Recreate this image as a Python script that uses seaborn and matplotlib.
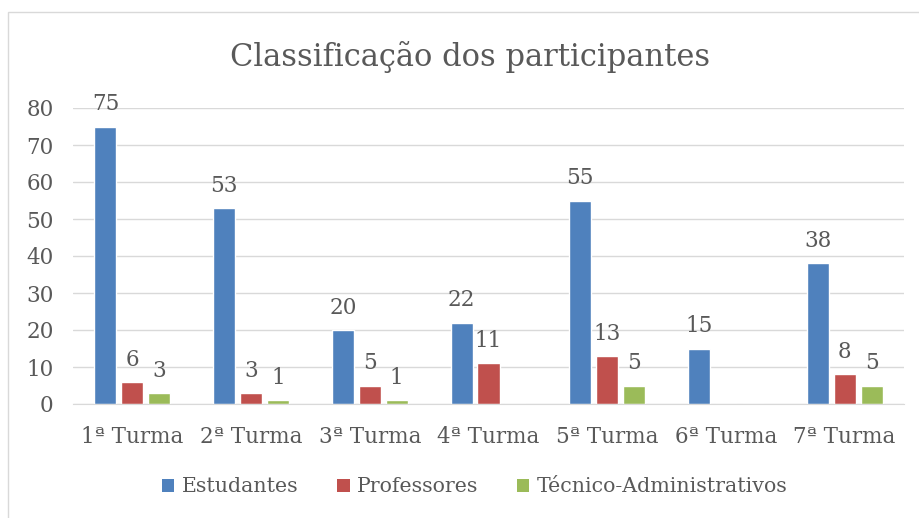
import matplotlib
matplotlib.use("Agg")
import matplotlib.pyplot as plt
import seaborn as sns
import pandas as pd
from matplotlib.patches import Patch, Rectangle

turmas = ["1ª Turma", "2ª Turma", "3ª Turma", "4ª Turma", "5ª Turma", "6ª Turma", "7ª Turma"]
estudantes = [75, 53, 20, 22, 55, 15, 38]
professores = [6, 3, 5, 11, 13, 0, 8]
tecnicos = [3, 1, 1, 0, 5, 0, 5]
grupos = ["Estudantes", "Professores", "Técnico-Administrativos"]
cores = ["#4F81BD", "#C0504D", "#9BBB59"]

df = pd.DataFrame({
    "turma": turmas * 3,
    "grupo": [grupos[0]] * 7 + [grupos[1]] * 7 + [grupos[2]] * 7,
    "valor": estudantes + professores + tecnicos,
})

sns.set_style("white")
plt.rcParams["font.family"] = ["DejaVu Serif"]
texto = "#595959"
fs = 15.5

fig = plt.figure(figsize=(9.2, 5.18), dpi=100)
ax = fig.add_axes([73 / 920, 1 - 404 / 518, (904 - 73) / 920, (404 - 108) / 518])

sns.barplot(data=df, x="turma", y="valor", hue="grupo", order=turmas,
            hue_order=grupos, palette=cores, width=0.68, gap=0.18,
            saturation=1, errorbar=None, legend=False, ax=ax)

# rótulos só para os valores presentes
for cont in ax.containers:
    ax.bar_label(cont, fmt=lambda v: f"{v:.0f}" if v > 0 else "",
                 padding=8, fontsize=fs, color=texto)

ax.set_ylim(0, 80)
ax.set_yticks(range(0, 81, 10))
ax.set_xlim(-0.5, 6.5)
ax.yaxis.grid(True, color="#D9D9D9", linewidth=1)
ax.set_axisbelow(True)
for s in ["left", "right", "top"]:
    ax.spines[s].set_visible(False)
ax.spines["bottom"].set_color("#D9D9D9")
ax.tick_params(axis="both", length=0, labelsize=fs, labelcolor=texto)
ax.tick_params(axis="y", pad=14)
ax.tick_params(axis="x", pad=16)
ax.set_xlabel("")
ax.set_ylabel("")

fig.text(0.511, 1 - 57 / 518, "Classificação dos participantes",
         ha="center", va="center", fontsize=22, color=texto)

handles = [Patch(facecolor=c, edgecolor="none") for c in cores]
leg = fig.legend(handles, grupos, loc="center", bbox_to_anchor=(0.516, 1 - 487 / 518),
                 ncol=3, frameon=False, fontsize=14.8, handlelength=0.6, handleheight=0.6,
                 handletextpad=0.35, columnspacing=1.9)
for t in leg.get_texts():
    t.set_color(texto)

fig.patches.append(Rectangle((8 / 920, -0.1), 1.2, 1 - 12 / 518 + 0.1,
                             transform=fig.transFigure, fill=False,
                             edgecolor="#D9D9D9", linewidth=1))

fig.savefig("out.png", dpi=100)
